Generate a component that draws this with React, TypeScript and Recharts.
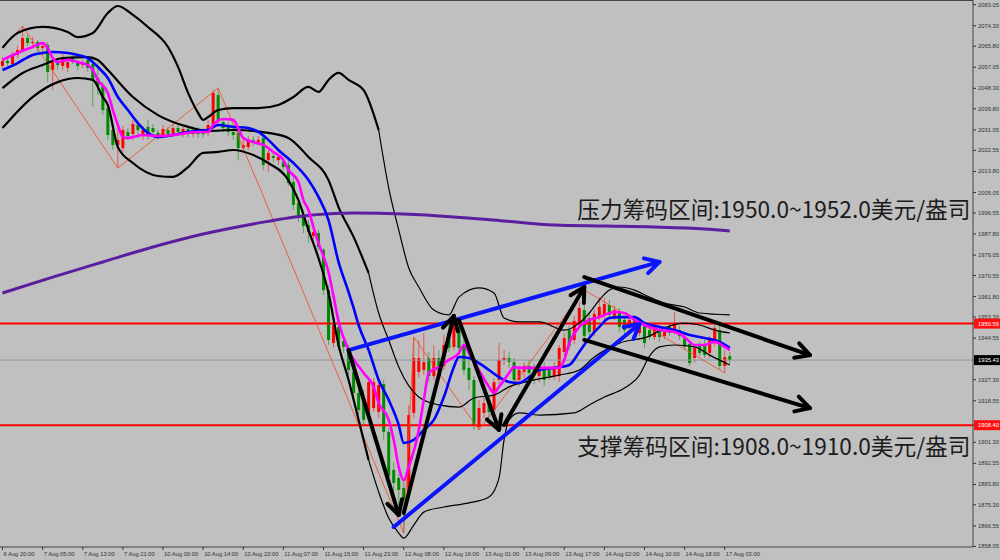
import React from 'react';
import { ComposedChart, Bar, Line, XAxis, YAxis, ReferenceLine, ReferenceDot } from 'recharts';

// ---- hourly XAUUSD bars, oldest first ----
const opens = [
  2057.6, 2059.7, 2058.4, 2062.2, 2064.2, 2069.2, 2067.1, 2067.6, 2065.1, 2066.3,
  2055.9, 2059.2, 2057.6, 2056.8, 2060.9, 2059.2, 2058.0, 2060.1, 2058.4, 2052.6,
  2049.3, 2040.1, 2031.0, 2024.8, 2023.5, 2030.2, 2029.3, 2033.1, 2028.5, 2032.3,
  2031.8, 2029.8, 2028.9, 2031.0, 2029.3, 2031.8, 2029.8, 2031.4, 2029.3, 2031.0,
  2031.0, 2029.8, 2033.1, 2045.5, 2034.3, 2032.7, 2030.2, 2029.8, 2023.5, 2023.9,
  2026.9, 2026.0, 2027.7, 2018.5, 2020.2, 2018.5, 2017.7, 2016.5, 2009.4, 2000.7,
  1996.1, 1991.5, 1987.0, 1988.2, 1981.2, 1964.5, 1942.5, 1949.2, 1943.4, 1940.5,
  1930.5, 1921.8, 1919.7, 1913.5, 1915.5, 1913.9, 1925.5, 1905.6, 1889.8, 1886.5,
  1882.3, 1879.4, 1913.5, 1930.5, 1931.3, 1936.3, 1928.8, 1936.3, 1933.0, 1946.7,
  1940.9, 1949.2, 1941.7, 1932.2, 1927.2, 1907.6, 1913.5, 1917.6, 1914.7, 1927.2,
  1935.5, 1936.3, 1934.6, 1927.2, 1930.5, 1933.0, 1932.2, 1928.8, 1932.2, 1931.3,
  1928.8, 1928.8, 1938.8, 1947.9, 1943.8, 1950.8, 1956.2, 1952.9, 1947.1, 1953.3,
  1954.2, 1958.3, 1953.8, 1955.4, 1952.1, 1948.8, 1952.1, 1946.7, 1949.6, 1947.9,
  1945.0, 1947.9, 1945.4, 1949.2, 1947.9, 1947.9, 1945.4, 1942.1, 1936.3, 1941.3,
  1942.1, 1938.4, 1942.5, 1947.9, 1933.0, 1937.1,
];
const highs = [
  2061.3, 2060.9, 2063.4, 2065.9, 2074.2, 2070.5, 2069.6, 2068.4, 2067.6, 2067.6,
  2060.9, 2060.9, 2063.4, 2060.9, 2062.6, 2060.1, 2060.1, 2061.7, 2060.9, 2059.2,
  2050.9, 2041.8, 2033.1, 2031.8, 2032.7, 2031.8, 2035.2, 2035.2, 2032.7, 2035.2,
  2033.5, 2031.0, 2033.1, 2032.3, 2033.5, 2033.1, 2033.1, 2032.7, 2032.3, 2032.3,
  2031.8, 2035.2, 2047.6, 2048.4, 2036.0, 2034.3, 2031.8, 2031.8, 2026.9, 2028.5,
  2028.5, 2028.5, 2029.3, 2022.7, 2021.9, 2021.5, 2019.4, 2018.5, 2011.1, 2002.8,
  1997.8, 1993.6, 1990.3, 1989.5, 1982.0, 1966.6, 1952.9, 1951.3, 1945.4, 1941.7,
  1932.2, 1923.8, 1923.0, 1928.0, 1928.0, 1927.2, 1927.2, 1907.2, 1893.1, 1888.1,
  1885.6, 1916.8, 1945.0, 1943.8, 1946.7, 1938.8, 1941.7, 1939.6, 1945.9, 1950.0,
  1953.8, 1951.3, 1944.6, 1935.5, 1928.8, 1918.9, 1919.7, 1920.9, 1928.0, 1942.5,
  1939.6, 1938.8, 1936.3, 1933.0, 1934.6, 1935.5, 1933.8, 1933.0, 1934.6, 1933.0,
  1934.6, 1941.7, 1946.7, 1949.6, 1953.8, 1959.6, 1964.5, 1955.4, 1956.2, 1961.6,
  1961.2, 1960.4, 1958.3, 1957.1, 1953.8, 1953.8, 1953.8, 1952.9, 1951.3, 1949.6,
  1951.3, 1949.6, 1949.6, 1950.4, 1955.4, 1949.6, 1946.7, 1943.8, 1942.1, 1943.0,
  1943.8, 1945.4, 1950.0, 1949.6, 1939.6, 1938.8,
];
const lows = [
  2056.8, 2057.6, 2057.6, 2060.9, 2063.4, 2065.9, 2065.5, 2063.4, 2062.2, 2050.9,
  2047.6, 2055.9, 2055.9, 2055.1, 2058.4, 2055.9, 2056.8, 2055.1, 2040.6, 2045.5,
  2037.2, 2026.9, 2022.7, 2015.2, 2021.9, 2026.9, 2026.9, 2027.7, 2026.9, 2026.9,
  2028.5, 2026.9, 2027.7, 2028.1, 2028.1, 2028.5, 2028.1, 2028.1, 2028.1, 2027.7,
  2027.7, 2028.5, 2031.8, 2033.5, 2030.2, 2028.5, 2026.9, 2018.5, 2021.9, 2022.7,
  2024.4, 2024.8, 2014.4, 2013.6, 2017.7, 2016.5, 2014.4, 2007.7, 1997.8, 1992.8,
  1988.2, 1984.1, 1985.3, 1981.2, 1962.5, 1941.7, 1940.5, 1939.6, 1938.4, 1929.2,
  1920.1, 1912.6, 1908.5, 1911.4, 1913.9, 1911.4, 1902.3, 1884.8, 1880.7, 1875.3,
  1863.6, 1877.3, 1911.4, 1928.0, 1929.2, 1926.3, 1927.2, 1929.7, 1931.3, 1938.8,
  1939.6, 1937.5, 1929.2, 1923.0, 1906.4, 1906.4, 1911.4, 1911.4, 1912.6, 1925.1,
  1933.4, 1932.2, 1925.5, 1924.7, 1928.0, 1928.0, 1925.5, 1926.3, 1924.7, 1927.2,
  1927.2, 1926.3, 1937.1, 1939.6, 1942.1, 1949.2, 1943.8, 1944.6, 1945.4, 1952.1,
  1952.1, 1952.9, 1952.1, 1947.1, 1945.9, 1947.1, 1947.9, 1945.4, 1940.5, 1943.8,
  1943.8, 1943.0, 1944.2, 1945.4, 1946.3, 1943.8, 1939.6, 1933.0, 1934.6, 1937.1,
  1936.3, 1936.3, 1941.3, 1931.3, 1930.1, 1933.8,
];
const closes = [
  2059.7, 2058.8, 2062.2, 2064.2, 2069.2, 2067.1, 2067.6, 2065.1, 2065.9, 2055.1,
  2059.2, 2058.0, 2060.9, 2059.2, 2059.2, 2057.6, 2058.4, 2056.8, 2051.8, 2049.3,
  2039.3, 2028.9, 2024.8, 2026.9, 2031.0, 2028.5, 2033.5, 2031.0, 2031.0, 2029.3,
  2030.2, 2028.5, 2031.4, 2029.3, 2031.8, 2030.2, 2031.4, 2029.8, 2031.0, 2029.3,
  2029.3, 2033.1, 2046.4, 2035.2, 2031.8, 2030.2, 2028.9, 2023.5, 2024.8, 2026.9,
  2025.6, 2026.9, 2016.5, 2021.5, 2019.4, 2019.8, 2015.6, 2009.0, 1999.9, 1994.9,
  1991.1, 1988.6, 1988.6, 1982.4, 1964.5, 1943.8, 1950.0, 1940.9, 1940.9, 1931.3,
  1921.8, 1914.7, 1910.6, 1926.3, 1926.3, 1925.1, 1905.6, 1887.3, 1884.4, 1881.5,
  1877.3, 1912.6, 1936.3, 1936.3, 1934.6, 1928.8, 1936.3, 1931.3, 1941.7, 1940.5,
  1950.0, 1940.5, 1931.3, 1927.2, 1908.1, 1915.5, 1917.6, 1913.9, 1926.3, 1935.5,
  1936.3, 1934.6, 1927.2, 1931.3, 1933.0, 1930.1, 1928.8, 1931.3, 1927.2, 1928.8,
  1931.7, 1940.5, 1944.6, 1941.3, 1951.7, 1957.1, 1945.4, 1947.1, 1954.6, 1957.5,
  1958.7, 1954.2, 1956.2, 1949.2, 1947.9, 1952.1, 1949.2, 1950.8, 1942.5, 1945.0,
  1949.2, 1945.0, 1947.5, 1946.7, 1950.4, 1945.4, 1940.9, 1934.2, 1940.5, 1938.4,
  1937.5, 1943.8, 1948.8, 1933.0, 1936.7, 1935.43,
];

// ---- indicator readings: [bar index, price] ----
const maFast: [number, number][] = [
  [0, 2060.1], [3, 2063.0], [6, 2065.5], [8, 2067.1], [9, 2065.1], [10, 2060.9], [11, 2059.2],
  [13, 2060.1], [15, 2059.2], [17, 2058.0], [18, 2055.9], [19, 2051.8], [21, 2046.4], [22, 2039.3],
  [23, 2033.1], [24, 2028.1], [25, 2027.7], [26, 2028.1], [28, 2028.9], [31, 2028.5], [34, 2028.9],
  [37, 2029.8], [39, 2030.2], [41, 2030.2], [42, 2033.1], [44, 2035.6], [46, 2035.2], [47, 2031.8],
  [48, 2027.7], [50, 2026.0], [52, 2024.8], [54, 2021.9], [56, 2018.5], [57, 2014.4], [59, 2009.4],
  [60, 2001.9], [61, 1997.8], [62, 1990.7], [63, 1984.1], [65, 1972.0], [66, 1962.0], [67, 1951.5],
  [69, 1939.6], [72, 1930.1], [74, 1924.3], [75, 1917.6], [77, 1910.6], [78, 1902.3], [79, 1891.0],
  [80, 1885.6], [81, 1891.0], [83, 1906.4], [84, 1918.9], [85, 1930.1], [87, 1932.6], [89, 1935.5],
  [91, 1938.4], [92, 1941.7], [93, 1938.4], [95, 1931.3], [97, 1924.3], [98, 1921.8], [99, 1924.3],
  [101, 1930.1], [102, 1932.6], [103, 1932.2], [106, 1932.2], [109, 1932.2], [111, 1932.2],
  [112, 1935.5], [113, 1942.5], [115, 1949.2], [117, 1952.1], [119, 1953.3], [122, 1955.4],
  [124, 1955.0], [126, 1952.1], [128, 1950.0], [131, 1947.9], [134, 1947.1], [136, 1945.0],
  [138, 1941.7], [140, 1941.7], [142, 1943.0], [144, 1940.9], [145, 1939.6],
];
const maSlow: [number, number][] = [
  [0, 2055.9], [3, 2058.8], [6, 2062.2], [8, 2063.0], [10, 2063.4], [13, 2063.0], [15, 2062.2],
  [17, 2060.9], [19, 2057.2], [21, 2052.6], [23, 2044.7], [25, 2039.3], [27, 2033.9], [29, 2029.8],
  [31, 2028.1], [34, 2028.9], [37, 2030.2], [41, 2031.0], [43, 2033.1], [46, 2032.3], [49, 2031.8],
  [51, 2030.2], [53, 2026.9], [55, 2022.7], [58, 2017.3], [61, 2010.2], [63, 2003.2], [65, 1993.6],
  [67, 1976.2], [69, 1963.7], [70, 1957.1], [71, 1950.0], [73, 1939.6], [75, 1927.2], [77, 1918.9],
  [79, 1908.5], [80, 1901.0], [82, 1902.3], [84, 1906.4], [86, 1910.6], [88, 1920.1], [90, 1932.6],
  [91, 1936.7], [93, 1936.3], [95, 1934.2], [97, 1931.3], [99, 1928.4], [101, 1926.3], [103, 1925.9],
  [105, 1928.4], [107, 1931.3], [110, 1932.2], [113, 1933.4], [115, 1938.8], [117, 1944.6],
  [119, 1949.2], [121, 1952.9], [123, 1953.3], [126, 1953.3], [128, 1950.8], [131, 1949.2],
  [134, 1947.9], [137, 1945.9], [140, 1944.6], [143, 1943.0], [145, 1940.5],
];
const bandUpper: [number, number][] = [
  [0, 2065.1], [3, 2071.3], [8, 2073.8], [13, 2071.7], [15, 2069.6], [18, 2071.3], [21, 2079.6],
  [23, 2082.5], [26, 2078.8], [29, 2073.8], [33, 2065.5], [35, 2057.2], [37, 2046.4], [39, 2038.1],
  [40, 2035.2], [41, 2036.4], [43, 2039.3], [46, 2040.1], [51, 2040.1], [55, 2041.4], [58, 2044.7],
  [61, 2048.9], [63, 2046.8], [65, 2051.8], [67, 2054.7], [69, 2051.8], [72, 2047.6], [75, 2031.0],
  [77, 2007.0], [79, 1989.5], [81, 1973.7], [83, 1965.8], [86, 1956.2], [89, 1954.2], [91, 1961.6],
  [95, 1965.4], [98, 1963.3], [100, 1952.9], [103, 1951.3], [107, 1951.3], [112, 1947.9],
  [115, 1950.8], [117, 1955.0], [119, 1960.4], [121, 1964.5], [123, 1965.8], [126, 1964.5],
  [129, 1961.6], [132, 1959.1], [136, 1957.5], [139, 1955.0], [145, 1954.2],
];
const bandMiddle: [number, number][] = [
  [0, 2048.4], [4, 2054.7], [8, 2058.0], [12, 2060.9], [17, 2061.3], [19, 2060.1], [21, 2055.9],
  [26, 2044.7], [31, 2037.2], [37, 2032.3], [41, 2030.6], [46, 2031.0], [53, 2029.8], [57, 2027.7],
  [61, 2019.8], [65, 2010.2], [67, 1999.0], [70, 1986.6], [73, 1971.6], [75, 1955.0], [77, 1943.8],
  [79, 1932.6], [83, 1920.1], [87, 1916.8], [91, 1915.9], [94, 1919.7], [98, 1920.9], [101, 1924.3],
  [106, 1927.2], [111, 1929.2], [115, 1931.3], [118, 1936.7], [123, 1942.5], [129, 1945.4],
  [132, 1948.8], [136, 1950.8], [139, 1950.0], [142, 1947.9], [145, 1946.7],
];
const bandLower: [number, number][] = [
  [0, 2031.8], [6, 2044.7], [11, 2050.9], [15, 2052.6], [18, 2051.8], [20, 2044.7], [21, 2041.4],
  [23, 2023.9], [26, 2017.3], [31, 2011.9], [34, 2011.5], [37, 2015.6], [40, 2021.5], [43, 2021.9],
  [46, 2022.7], [50, 2020.6], [53, 2017.3], [57, 2010.2], [59, 2001.9], [61, 1989.5], [63, 1977.8],
  [65, 1963.3], [67, 1941.7], [69, 1927.2], [71, 1910.6], [73, 1893.9], [75, 1880.7], [77, 1869.8],
  [79, 1863.6], [80, 1861.5], [82, 1866.9], [84, 1872.3], [88, 1874.4], [93, 1876.1], [97, 1878.6],
  [99, 1886.5], [100, 1902.3], [101, 1910.6], [103, 1913.5], [107, 1912.6], [114, 1913.5],
  [117, 1916.8], [120, 1920.1], [124, 1923.8], [127, 1929.2], [129, 1937.1], [131, 1940.9],
  [134, 1941.7], [138, 1940.9], [141, 1937.5], [145, 1933.4],
];
const ma200: [number, number][] = [
  [0, 1963.3], [10, 1969.9], [20, 1976.2], [30, 1982.4], [40, 1987.8], [50, 1992.0], [60, 1995.3],
  [70, 1996.5], [80, 1996.1], [90, 1994.9], [100, 1993.2], [110, 1991.5], [120, 1991.1],
  [130, 1990.7], [140, 1989.9], [145, 1989.1],
];
const zigzag: [number, number][] = [
  [0, 2065.1], [4, 2074.2], [23, 2015.2], [43, 2048.4], [80, 1863.6], [82, 1945.0], [95, 1906.4],
  [116, 1964.5], [144, 1930.1],
];

// ---- hand-drawn trend arrows: [fromBar, fromPrice, toBar, toPrice] ----
const blueArrows = [
  [69, 1939.6, 131, 1976.2],
  [78, 1866.1, 127, 1950.4],
];
const blackArrows = [
  [69, 1939.6, 79, 1871.1],
  [80, 1871.9, 90, 1953.8],
  [91, 1952.1, 99, 1906.4],
  [100, 1908.5, 116, 1965.8],
  [116, 1969.9, 161, 1937.5],
  [116, 1943.8, 161, 1915.5],
];

const resistance = 1950.59;
const support = 1908.4;
const lastPrice = 1935.43;
const resistanceNote = '压力筹码区间:1950.0~1952.0美元/盎司';
const supportNote = '支撑筹码区间:1908.0~1910.0美元/盎司';

const timeLabels = [
  '6 Aug 20:00', '7 Aug 05:00', '7 Aug 13:00', '7 Aug 21:00', '10 Aug 06:00', '10 Aug 14:00',
  '10 Aug 22:00', '11 Aug 07:00', '11 Aug 15:00', '11 Aug 23:00', '12 Aug 08:00', '12 Aug 16:00',
  '13 Aug 01:00', '13 Aug 09:00', '13 Aug 17:00', '14 Aug 02:00', '14 Aug 10:00', '14 Aug 18:00',
  '17 Aug 03:00',
];
const priceTicks = [
  2083.05, 2074.3, 2065.8, 2057.05, 2048.3, 2039.8, 2031.05, 2022.55, 2013.8, 2005.05, 1996.55,
  1987.8, 1979.05, 1970.55, 1961.8, 1953.3, 1944.55, 1927.3, 1918.55, 1901.3, 1892.55, 1883.8,
  1875.3, 1866.55, 1858.05,
];

const SLOTS = 194; // visible bar slots incl. right-hand shift
const LABEL_STEP = 8;
const Y_DOMAIN: [number, number] = [1857.8, 2085.0];
const BG = '#c0c0c0';
const AXIS_FONT = '"Liberation Sans", Arial, sans-serif';
const SPLIT_BAR = 73;

const rows: Record<string, any>[] = Array.from({ length: SLOTS }, (_, i) => {
  const r: Record<string, any> = { i };
  if (i < closes.length) {
    r.o = opens[i];
    r.h = highs[i];
    r.l = lows[i];
    r.c = closes[i];
    r.range = [lows[i], highs[i]];
  }
  return r;
});

function place(key: string, pts: [number, number][], split?: number) {
  if (split === undefined) {
    pts.forEach(([b, v]) => (rows[b][key] = v));
    return;
  }
  const k = pts.findIndex(([b]) => b >= split);
  pts.slice(0, k + 1).forEach(([b, v]) => (rows[b][key + 'L'] = v));
  pts.slice(k).forEach(([b, v]) => (rows[b][key + 'R'] = v));
}
place('fast', maFast);
place('slow', maSlow);
place('up', bandUpper, SPLIT_BAR);
place('mid', bandMiddle, SPLIT_BAR);
place('low', bandLower, SPLIT_BAR);
place('ma200', ma200);
place('zz', zigzag);

const UP = '#ff0000';
const DOWN = '#008a00';

function Candle(props: any) {
  const { x, y, width, height, payload } = props;
  if (!payload || payload.o == null) return null;
  const { o, h, l, c } = payload;
  const top = Math.min(y, y + height);
  const full = Math.abs(height);
  const k = h > l ? full / (h - l) : 0;
  const yO = top + (h - o) * k;
  const yC = top + (h - c) * k;
  const col = c >= o ? UP : DOWN;
  const cx = x + width / 2;
  return (
    <g>
      <line x1={cx} x2={cx} y1={top} y2={top + full} stroke={col} strokeWidth={1} strokeOpacity={0.55} />
      <rect x={cx - 1.5} y={Math.min(yO, yC)} width={3} height={Math.max(1, Math.abs(yC - yO))} fill={col} />
    </g>
  );
}

const arrowShape = (color: string) => (p: any) => {
  const { x1, y1, x2, y2 } = p;
  const ang = Math.atan2(y2 - y1, x2 - x1);
  const len = 16;
  const spread = 0.5;
  const ax = x2 - len * Math.cos(ang - spread);
  const ay = y2 - len * Math.sin(ang - spread);
  const bx = x2 - len * Math.cos(ang + spread);
  const by = y2 - len * Math.sin(ang + spread);
  return (
    <g stroke={color} strokeWidth={4} strokeLinecap="round" strokeLinejoin="round" fill="none">
      <line x1={x1} y1={y1} x2={x2} y2={y2} />
      <polyline points={`${ax},${ay} ${x2},${y2} ${bx},${by}`} />
    </g>
  );
};

const noteShape = (text: string) => (p: any) => (
  <text
    x={p.cx - 2}
    y={p.cy}
    dominantBaseline="central"
    fontSize={22.7}
    fill="#1c1c1c"
    fontFamily='"Noto Sans CJK SC", "Noto Sans", sans-serif'
  >
    {text}
  </text>
);

function TimeTick(props: any) {
  const { x, y, payload } = props;
  const label = timeLabels[payload.value / LABEL_STEP];
  return (
    <g>
      <line x1={x} x2={x} y1={y} y2={y + 3} stroke="#333" />
      <text x={x + 1} y={y + 9} fontSize={5.8} fill="#333" fontFamily={AXIS_FONT}>
        {label}
      </text>
    </g>
  );
}

function PriceTick(props: any) {
  const { x, y, payload } = props;
  const v: number = payload.value;
  let box: string | null = null;
  if (v === resistance || v === support) box = '#ff1010';
  if (v === lastPrice) box = '#000';
  return (
    <g>
      <line x1={x} x2={x + 3} y1={y} y2={y} stroke="#333" />
      {box && <rect x={x + 1} y={y - 5} width={27} height={10} fill={box} />}
      <text x={x + 5} y={y} dy="0.35em" fontSize={5.8} fill={box ? '#fff' : '#333'} fontFamily={AXIS_FONT}>
        {v.toFixed(2)}
      </text>
    </g>
  );
}

const lineBase = { dot: false, activeDot: false, connectNulls: true, isAnimationActive: false } as const;

export default function App() {
  return (
    <div style={{ position: 'absolute', left: 0, top: 0, width: 1000, height: 560, background: BG }}>
      <ComposedChart
        width={1000}
        height={560}
        data={rows}
        margin={{ top: 0, right: 0, bottom: 0, left: 0 }}
        barCategoryGap="20%"
      >
        <XAxis
          dataKey="i"
          type="category"
          ticks={timeLabels.map((_, k) => k * LABEL_STEP)}
          interval={0}
          tick={<TimeTick />}
          tickSize={0}
          tickMargin={0}
          height={13}
          axisLine={{ stroke: '#444' }}
        />
        <YAxis
          orientation="right"
          domain={Y_DOMAIN}
          allowDataOverflow
          ticks={[...priceTicks, resistance, support, lastPrice]}
          interval={0}
          tick={<PriceTick />}
          tickSize={0}
          tickMargin={0}
          width={27}
          axisLine={{ stroke: '#444' }}
        />
        <ReferenceLine y={Y_DOMAIN[1]} stroke="#444" strokeWidth={2} />
        <ReferenceLine y={lastPrice} stroke="#8d98a4" strokeWidth={1} />
        <ReferenceLine y={resistance} stroke="#ff0000" strokeWidth={2} />
        <ReferenceLine y={support} stroke="#ff0000" strokeWidth={2} />

        <Bar dataKey="range" shape={<Candle />} isAnimationActive={false} />

        <Line dataKey="zz" stroke="#f0502a" strokeWidth={1} type="linear" strokeOpacity={0.85} {...lineBase} />
        <Line dataKey="upL" stroke="#000" strokeWidth={2.2} type="monotone" {...lineBase} />
        <Line dataKey="upR" stroke="#000" strokeWidth={1.2} type="monotone" {...lineBase} />
        <Line dataKey="midL" stroke="#000" strokeWidth={2.2} type="monotone" {...lineBase} />
        <Line dataKey="midR" stroke="#000" strokeWidth={1.2} type="monotone" {...lineBase} />
        <Line dataKey="lowL" stroke="#000" strokeWidth={2.2} type="monotone" {...lineBase} />
        <Line dataKey="lowR" stroke="#000" strokeWidth={1.2} type="monotone" {...lineBase} />
        <Line dataKey="ma200" stroke="#5c1e9e" strokeWidth={3} type="monotone" {...lineBase} />
        <Line dataKey="slow" stroke="#0000ff" strokeWidth={2.6} type="monotone" {...lineBase} />
        <Line dataKey="fast" stroke="#ff00ff" strokeWidth={2.6} type="monotone" {...lineBase} />

        {blueArrows.map(([b1, p1, b2, p2], k) => (
          <ReferenceLine
            key={'b' + k}
            segment={[{ x: b1, y: p1 }, { x: b2, y: p2 }]}
            shape={arrowShape('#0a14ff')}
          />
        ))}
        {blackArrows.map(([b1, p1, b2, p2], k) => (
          <ReferenceLine
            key={'k' + k}
            segment={[{ x: b1, y: p1 }, { x: b2, y: p2 }]}
            shape={arrowShape('#000')}
          />
        ))}

        <ReferenceDot x={115} y={1998.2} r={1} shape={noteShape(resistanceNote)} />
        <ReferenceDot x={115} y={1899.8} r={1} shape={noteShape(supportNote)} />
      </ComposedChart>
    </div>
  );
}
